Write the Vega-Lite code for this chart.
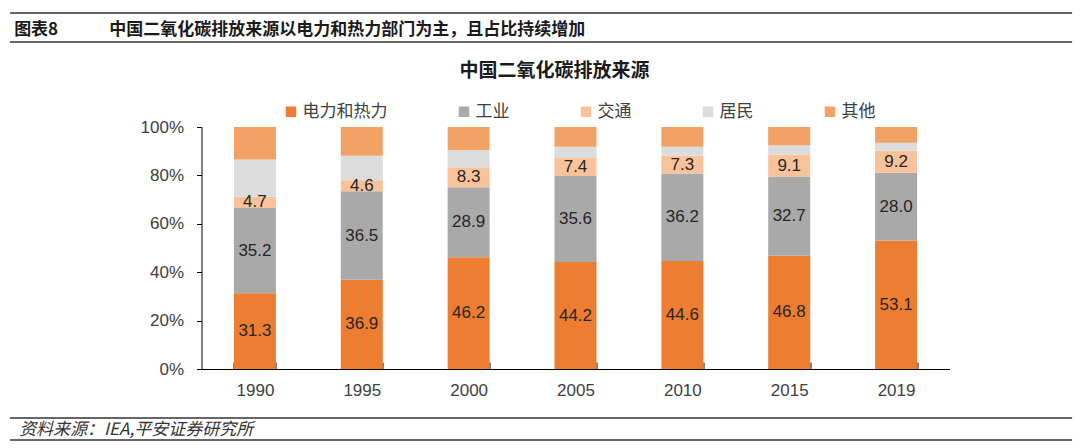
{
  "$schema": "https://vega.github.io/schema/vega-lite/v6.json",
  "background": "white",
  "padding": {"top": 12, "left": 9, "right": 9, "bottom": 0},
  "config": {"view": {"stroke": null}, "font": "Liberation Sans, Noto Sans CJK SC"},
  "datasets": {
    "sectors": [
      {"s": "电力和热力", "k": 1},
      {"s": "工业", "k": 2},
      {"s": "交通", "k": 3},
      {"s": "居民", "k": 4},
      {"s": "其他", "k": 5}
    ],
    "co2": [
      {"year": "1990", "s": "电力和热力", "v": 31.3},
      {"year": "1990", "s": "工业", "v": 35.2},
      {"year": "1990", "s": "交通", "v": 4.7},
      {"year": "1990", "s": "居民", "v": 15.4},
      {"year": "1990", "s": "其他", "v": 13.4},
      {"year": "1995", "s": "电力和热力", "v": 36.9},
      {"year": "1995", "s": "工业", "v": 36.5},
      {"year": "1995", "s": "交通", "v": 4.6},
      {"year": "1995", "s": "居民", "v": 10.1},
      {"year": "1995", "s": "其他", "v": 11.9},
      {"year": "2000", "s": "电力和热力", "v": 46.2},
      {"year": "2000", "s": "工业", "v": 28.9},
      {"year": "2000", "s": "交通", "v": 8.3},
      {"year": "2000", "s": "居民", "v": 7.1},
      {"year": "2000", "s": "其他", "v": 9.5},
      {"year": "2005", "s": "电力和热力", "v": 44.2},
      {"year": "2005", "s": "工业", "v": 35.6},
      {"year": "2005", "s": "交通", "v": 7.4},
      {"year": "2005", "s": "居民", "v": 4.6},
      {"year": "2005", "s": "其他", "v": 8.2},
      {"year": "2010", "s": "电力和热力", "v": 44.6},
      {"year": "2010", "s": "工业", "v": 36.2},
      {"year": "2010", "s": "交通", "v": 7.3},
      {"year": "2010", "s": "居民", "v": 3.7},
      {"year": "2010", "s": "其他", "v": 8.2},
      {"year": "2015", "s": "电力和热力", "v": 46.8},
      {"year": "2015", "s": "工业", "v": 32.7},
      {"year": "2015", "s": "交通", "v": 9.1},
      {"year": "2015", "s": "居民", "v": 3.9},
      {"year": "2015", "s": "其他", "v": 7.5},
      {"year": "2019", "s": "电力和热力", "v": 53.1},
      {"year": "2019", "s": "工业", "v": 28.0},
      {"year": "2019", "s": "交通", "v": 9.2},
      {"year": "2019", "s": "居民", "v": 3.2},
      {"year": "2019", "s": "其他", "v": 6.5}
    ]
  },
  "spacing": 19,
  "center": true,
  "resolve": {"legend": {"color": "independent"}, "scale": {"color": "independent"}},
  "vconcat": [
    {
      "width": 1062,
      "height": 29,
      "data": {"values": [{}]},
      "title": {
        "text": "图表8\u3000\u3000\u3000中国二氧化碳排放来源以电力和热力部门为主，且占比持续增加",
        "anchor": "start", "frame": "group", "orient": "top", "offset": -27, "dx": 4,
        "fontSize": 17, "fontWeight": "bold", "font": "Noto Sans CJK SC", "color": "#1a1a1a"
      },
      "layer": [
        {"mark": {"type": "rule", "color": "#333333", "strokeWidth": 1.5},
         "encoding": {"y": {"datum": 0, "type": "quantitative", "scale": {"domain": [0, 1]}, "axis": null}}},
        {"mark": {"type": "rule", "color": "#333333", "strokeWidth": 1.5},
         "encoding": {"y": {"datum": 1, "type": "quantitative", "axis": null}}}
      ]
    },
    {
      "width": 1062,
      "height": 242,
      "data": {"name": "co2"},
      "transform": [
        {"lookup": "s", "from": {"data": {"name": "sectors"}, "key": "s", "fields": ["k"]}}
      ],
      "title": {
        "text": "中国二氧化碳排放来源", "fontSize": 19, "fontWeight": "bold", "font": "Noto Sans CJK SC",
        "color": "#1a1a1a", "anchor": "middle", "frame": "group", "dx": 13, "offset": 22
      },
      "encoding": {
        "x": {
          "field": "year", "type": "ordinal",
          "scale": {"paddingInner": 0.607, "paddingOuter": 0.3035, "range": [191, 939]},
          "axis": {
            "title": null, "labelAngle": 0, "labelFontSize": 17, "labelColor": "#404040",
            "labelPadding": 20, "domainColor": "#000000", "tickColor": "#000000",
            "tickSize": -7, "tickBand": "extent"
          }
        },
        "y": {
          "field": "v", "type": "quantitative", "stack": "normalize",
          "scale": {"domain": [0, 1], "nice": false},
          "axis": {
            "title": null, "offset": -191,
            "format": ".0%", "values": [0, 0.2, 0.4, 0.6, 0.8, 1],
            "labelFontSize": 17, "labelColor": "#404040", "tickSize": 5, "labelPadding": 13,
            "domainColor": "#000000", "tickColor": "#000000", "grid": false, "labelFlush": false
          }
        },
        "order": {"field": "k", "type": "quantitative", "sort": "ascending"},
        "color": {
          "field": "s", "type": "nominal",
          "sort": ["电力和热力", "工业", "交通", "居民", "其他"],
          "scale": {
            "domain": ["电力和热力", "工业", "交通", "居民", "其他"],
            "range": ["#ED7D31", "#A9A9A9", "#F8C29B", "#DCDCDC", "#F3A265"]
          },
          "legend": {
            "title": null, "orient": "none", "legendX": 272, "legendY": -24, "direction": "horizontal",
            "symbolType": "square", "symbolSize": 110, "labelFontSize": 17, "labelColor": "#404040",
            "columnPadding": 68, "labelOffset": 3, "symbolStrokeWidth": 0, "padding": 0,
            "labelFont": "Noto Sans CJK SC"
          }
        }
      },
      "layer": [
        {"mark": {"type": "bar"}},
        {
          "mark": {"type": "text", "fontSize": 17},
          "encoding": {
            "y": {"field": "v", "type": "quantitative", "stack": "normalize", "bandPosition": 0.5},
            "fill": {"value": "#262626"},
            "text": {
              "condition": {"test": "datum.s === '居民' || datum.s === '其他'", "value": ""},
              "field": "v", "type": "quantitative", "format": ".1f"
            }
          }
        }
      ]
    },
    {
      "width": 1062,
      "height": 22,
      "data": {"values": [{}]},
      "title": {
        "text": "资料来源：IEA,平安证券研究所",
        "anchor": "start", "frame": "group", "orient": "top", "offset": -22, "dx": 9,
        "fontSize": 17, "fontWeight": "normal", "fontStyle": "italic", "font": "Noto Sans CJK SC", "color": "#333333"
      },
      "layer": [
        {"mark": {"type": "rule", "color": "#333333", "strokeWidth": 1.5},
         "encoding": {"y": {"datum": 0, "type": "quantitative", "scale": {"domain": [0, 1]}, "axis": null}}},
        {"mark": {"type": "rule", "color": "#333333", "strokeWidth": 1.5},
         "encoding": {"y": {"datum": 1, "type": "quantitative", "axis": null}}}
      ]
    }
  ]
}
